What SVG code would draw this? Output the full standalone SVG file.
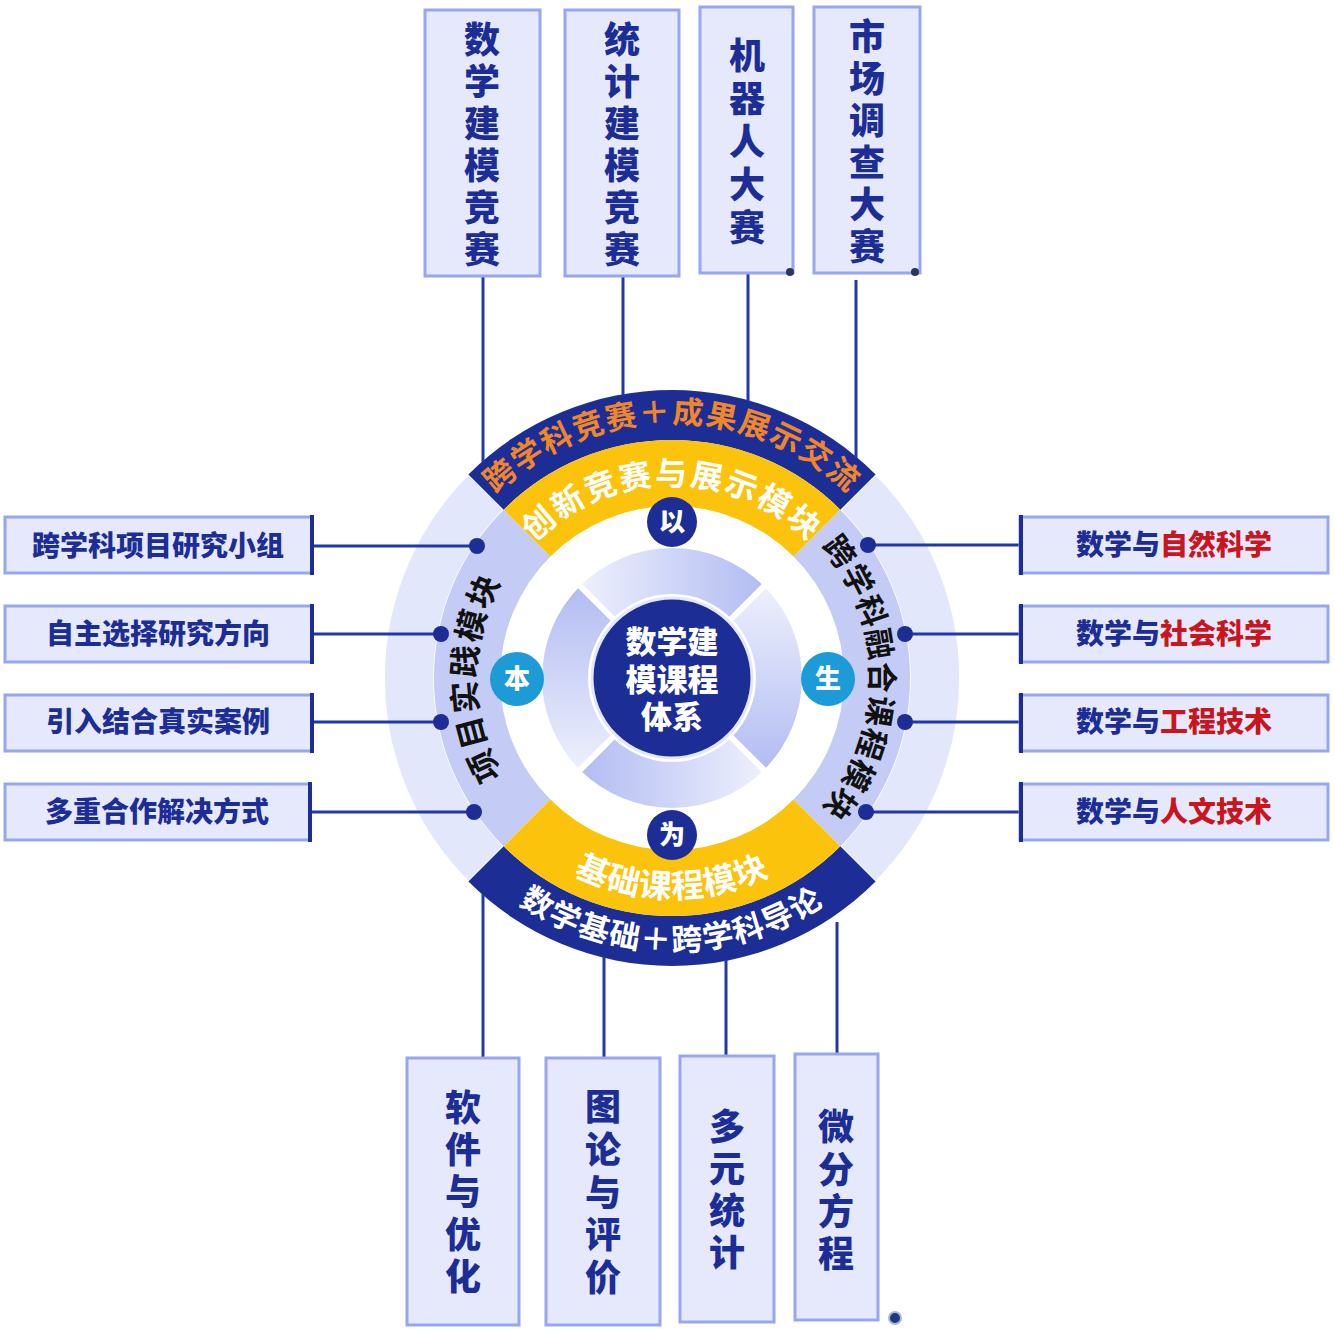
<svg xmlns="http://www.w3.org/2000/svg" width="1335" height="1329" viewBox="0 0 1335 1329">
<style>
.box{fill:#e6e9fc;stroke:#97a6ef;stroke-width:3}
.bar{stroke:#1c2e96;stroke-width:4}
.ln{stroke:#2238a8;stroke-width:3;fill:none}
.dot{fill:#1c2e96}
.t{font-family:"Noto Sans CJK SC","Noto Sans",sans-serif;font-weight:900}
.a{font-family:"Noto Sans CJK SC","Noto Sans",sans-serif;font-weight:700}
.vt{font-size:36px;fill:#1c2e96;text-anchor:middle}
.ht{font-size:28px;fill:#1c2e96;text-anchor:middle}
.red{fill:#c9151e}
</style>
<defs>
<linearGradient id="gT" x1="0" y1="0" x2="1" y2="0"><stop offset="0" stop-color="#eef0fd"/><stop offset="1" stop-color="#b2bcf2"/></linearGradient>
<linearGradient id="gR" x1="0" y1="0" x2="0" y2="1"><stop offset="0" stop-color="#eef0fd"/><stop offset="1" stop-color="#b2bcf2"/></linearGradient>
<linearGradient id="gB" x1="1" y1="0" x2="0" y2="0"><stop offset="0" stop-color="#eef0fd"/><stop offset="1" stop-color="#b2bcf2"/></linearGradient>
<linearGradient id="gL" x1="0" y1="1" x2="0" y2="0"><stop offset="0" stop-color="#eef0fd"/><stop offset="1" stop-color="#b2bcf2"/></linearGradient>
<path id="pTopO" d="M 451.2 550.5 A 255 255 0 0 1 892.8 550.5"/>
<path id="pTopI" d="M 504.9 581.5 A 193 193 0 0 1 839.1 581.5"/>
<path id="pBotI" d="M 481.5 788 A 220 220 0 0 0 862.5 788"/>
<path id="pBotO" d="M 435.6 814.5 A 273 273 0 0 0 908.4 814.5"/>
<path id="pLeft" d="M 502.3 776 A 196 196 0 0 1 502.3 580"/>
<path id="pRight" d="M 824.4 550.1 A 199 199 0 0 1 824.4 805.9"/>
</defs>
<rect width="1335" height="1329" fill="#ffffff"/>

<g id="wheel">
<path fill="#e3e7fc" stroke="#ffffff" stroke-width="1.5" d="M 468.4 881.6 A 288 288 0 0 1 468.4 474.4 L 503.7 509.7 A 238 238 0 0 0 503.7 846.3 Z"/>
<path fill="#e3e7fc" stroke="#ffffff" stroke-width="1.5" d="M 875.6 474.4 A 288 288 0 0 1 875.6 881.6 L 840.3 846.3 A 238 238 0 0 0 840.3 509.7 Z"/>
<path fill="#c4cbf5" d="M 503.7 846.3 A 238 238 0 0 1 503.7 509.7 L 550.4 556.4 A 172 172 0 0 0 550.4 799.6 Z"/>
<path fill="#c4cbf5" d="M 840.3 509.7 A 238 238 0 0 1 840.3 846.3 L 793.6 799.6 A 172 172 0 0 0 793.6 556.4 Z"/>
<path fill="#1c2e96" d="M 468.4 474.4 A 288 288 0 0 1 875.6 474.4 L 840.3 509.7 A 238 238 0 0 0 503.7 509.7 Z"/>
<path fill="#fbc30c" d="M 503.7 509.7 A 238 238 0 0 1 840.3 509.7 L 793.6 556.4 A 172 172 0 0 0 550.4 556.4 Z"/>
<path fill="#1c2e96" d="M 875.6 881.6 A 288 288 0 0 1 468.4 881.6 L 503.7 846.3 A 238 238 0 0 0 840.3 846.3 Z"/>
<path fill="#fbc30c" d="M 840.3 846.3 A 238 238 0 0 1 503.7 846.3 L 550.4 799.6 A 172 172 0 0 0 793.6 799.6 Z"/>
<text class="a" fill="#f0862a" font-size="31" letter-spacing="1.5"><textPath href="#pTopO" startOffset="50%" text-anchor="middle">跨学科竞赛＋成果展示交流</textPath></text>
<text class="a" fill="#ffffff" font-size="32" letter-spacing="2"><textPath href="#pTopI" startOffset="50%" text-anchor="middle">创新竞赛与展示模块</textPath></text>
<text class="a" fill="#ffffff" font-size="33" letter-spacing="1"><textPath href="#pBotI" startOffset="50%" text-anchor="middle">基础课程模块</textPath></text>
<text class="a" fill="#ffffff" font-size="31" letter-spacing="1.5"><textPath href="#pBotO" startOffset="50%" text-anchor="middle">数学基础＋跨学科导论</textPath></text>
<text class="a" fill="#111111" font-size="32" letter-spacing="2"><textPath href="#pLeft" startOffset="50%" text-anchor="middle">项目实践模块</textPath></text>
<text class="a" fill="#111111" font-size="31" letter-spacing="1"><textPath href="#pRight" startOffset="50%" text-anchor="middle">跨学科融合课程模块</textPath></text>
</g>

<g id="connectors">
<line class="ln" x1="483" y1="276" x2="483" y2="462"/>
<line class="ln" x1="623" y1="276" x2="623" y2="396"/>
<line class="ln" x1="748" y1="273" x2="748" y2="401"/>
<line class="ln" x1="856" y1="280" x2="856" y2="458"/>
<line class="ln" x1="483" y1="894" x2="483" y2="1058"/>
<line class="ln" x1="604" y1="957" x2="604" y2="1058"/>
<line class="ln" x1="726" y1="960" x2="726" y2="1056"/>
<line class="ln" x1="837" y1="922" x2="837" y2="1054"/>
<line class="ln" x1="312" y1="546" x2="477" y2="546"/>
<line class="ln" x1="312" y1="634" x2="441" y2="634"/>
<line class="ln" x1="312" y1="722" x2="441" y2="722"/>
<line class="ln" x1="310" y1="812" x2="474" y2="812"/>
<line class="ln" x1="868" y1="545" x2="1020" y2="545"/>
<line class="ln" x1="905" y1="634" x2="1020" y2="634"/>
<line class="ln" x1="905" y1="722" x2="1020" y2="722"/>
<line class="ln" x1="866" y1="812" x2="1020" y2="812"/>
<circle class="dot" cx="477" cy="546" r="8"/>
<circle class="dot" cx="441" cy="634" r="8"/>
<circle class="dot" cx="441" cy="722" r="8"/>
<circle class="dot" cx="474" cy="812" r="8"/>
<circle class="dot" cx="868" cy="545" r="8"/>
<circle class="dot" cx="905" cy="634" r="8"/>
<circle class="dot" cx="905" cy="722" r="8"/>
<circle class="dot" cx="866" cy="812" r="8"/>
</g>

<g id="inner-ring">
<path fill="url(#gT)" d="M 580.1 586.1 A 130 130 0 0 1 763.9 586.1 L 731.4 618.6 A 84 84 0 0 0 612.6 618.6 Z"/>
<path fill="url(#gR)" d="M 763.9 586.1 A 130 130 0 0 1 763.9 769.9 L 731.4 737.4 A 84 84 0 0 0 731.4 618.6 Z"/>
<path fill="url(#gB)" d="M 763.9 769.9 A 130 130 0 0 1 580.1 769.9 L 612.6 737.4 A 84 84 0 0 0 731.4 737.4 Z"/>
<path fill="url(#gL)" d="M 580.1 769.9 A 130 130 0 0 1 580.1 586.1 L 612.6 618.6 A 84 84 0 0 0 612.6 737.4 Z"/>
<line x1="575" y1="581" x2="615" y2="621" stroke="#ffffff" stroke-width="6"/>
<line x1="769" y1="581" x2="729" y2="621" stroke="#ffffff" stroke-width="6"/>
<line x1="769" y1="775" x2="729" y2="735" stroke="#ffffff" stroke-width="6"/>
<line x1="575" y1="775" x2="615" y2="735" stroke="#ffffff" stroke-width="6"/>
</g>

<g id="center">
<circle cx="672" cy="678" r="80" fill="#1c2e96" stroke="#e3e7fb" stroke-width="3"/>
<text class="t" font-size="31" fill="#ffffff" text-anchor="middle"><tspan x="672" y="653">数学建</tspan><tspan x="672" y="691">模课程</tspan><tspan x="672" y="728">体系</tspan></text>
</g>

<g id="badge-yi"><circle cx="672" cy="522" r="25" fill="#1c2e96"/><text class="t" x="672" y="531" font-size="26" fill="#fff" text-anchor="middle">以</text></g>
<g id="badge-wei"><circle cx="672" cy="835" r="25" fill="#1c2e96"/><text class="t" x="672" y="844" font-size="26" fill="#fff" text-anchor="middle">为</text></g>
<g id="badge-ben"><circle cx="517" cy="679" r="27" fill="#1d9bd7"/><text class="t" x="517" y="688" font-size="26" fill="#fff" text-anchor="middle">本</text></g>
<g id="badge-sheng"><circle cx="828" cy="679" r="27" fill="#1d9bd7"/><text class="t" x="828" y="688" font-size="26" fill="#fff" text-anchor="middle">生</text></g>

<g id="top-1"><rect class="box" x="425" y="10" width="115" height="266"/>
<text class="t vt"><tspan x="482" y="53">数</tspan><tspan x="482" y="95">学</tspan><tspan x="482" y="137">建</tspan><tspan x="482" y="179">模</tspan><tspan x="482" y="221">竞</tspan><tspan x="482" y="263">赛</tspan></text></g>
<g id="top-2"><rect class="box" x="565" y="10" width="114" height="266"/>
<text class="t vt"><tspan x="622" y="53">统</tspan><tspan x="622" y="95">计</tspan><tspan x="622" y="137">建</tspan><tspan x="622" y="179">模</tspan><tspan x="622" y="221">竞</tspan><tspan x="622" y="263">赛</tspan></text></g>
<g id="top-3"><rect class="box" x="700" y="7" width="93" height="266"/>
<text class="t vt"><tspan x="747" y="69">机</tspan><tspan x="747" y="112">器</tspan><tspan x="747" y="155">人</tspan><tspan x="747" y="198">大</tspan><tspan x="747" y="241">赛</tspan></text></g>
<g id="top-4"><rect class="box" x="814" y="7" width="106" height="266"/>
<text class="t vt"><tspan x="867" y="50">市</tspan><tspan x="867" y="92">场</tspan><tspan x="867" y="134">调</tspan><tspan x="867" y="176">查</tspan><tspan x="867" y="218">大</tspan><tspan x="867" y="260">赛</tspan></text></g>

<g id="bottom-1"><rect class="box" x="407" y="1058" width="112" height="267"/>
<text class="t vt"><tspan x="463" y="1121">软</tspan><tspan x="463" y="1163">件</tspan><tspan x="463" y="1205">与</tspan><tspan x="463" y="1248">优</tspan><tspan x="463" y="1290">化</tspan></text></g>
<g id="bottom-2"><rect class="box" x="546" y="1058" width="114" height="267"/>
<text class="t vt"><tspan x="603" y="1120">图</tspan><tspan x="603" y="1163">论</tspan><tspan x="603" y="1206">与</tspan><tspan x="603" y="1248">评</tspan><tspan x="603" y="1291">价</tspan></text></g>
<g id="bottom-3"><rect class="box" x="680" y="1056" width="94" height="266"/>
<text class="t vt"><tspan x="727" y="1140">多</tspan><tspan x="727" y="1182">元</tspan><tspan x="727" y="1224">统</tspan><tspan x="727" y="1266">计</tspan></text></g>
<g id="bottom-4"><rect class="box" x="795" y="1054" width="83" height="266"/>
<text class="t vt"><tspan x="836" y="1140">微</tspan><tspan x="836" y="1183">分</tspan><tspan x="836" y="1225">方</tspan><tspan x="836" y="1267">程</tspan></text></g>

<g id="left-1"><rect class="box" x="5" y="517" width="307" height="56"/><line class="bar" x1="312" y1="515" x2="312" y2="575"/><text class="t ht" x="158" y="556">跨学科项目研究小组</text></g>
<g id="left-2"><rect class="box" x="5" y="606" width="307" height="56"/><line class="bar" x1="312" y1="604" x2="312" y2="664"/><text class="t ht" x="158" y="644">自主选择研究方向</text></g>
<g id="left-3"><rect class="box" x="5" y="695" width="307" height="56"/><line class="bar" x1="312" y1="693" x2="312" y2="753"/><text class="t ht" x="158" y="732">引入结合真实案例</text></g>
<g id="left-4"><rect class="box" x="5" y="784" width="305" height="56"/><line class="bar" x1="310" y1="782" x2="310" y2="842"/><text class="t ht" x="157" y="822">多重合作解决方式</text></g>

<g id="right-1"><rect class="box" x="1020" y="517" width="308" height="56"/><line class="bar" x1="1021" y1="515" x2="1021" y2="575"/><text class="t ht" x="1174" y="555">数学与<tspan class="red">自然科学</tspan></text></g>
<g id="right-2"><rect class="box" x="1020" y="606" width="308" height="56"/><line class="bar" x1="1021" y1="604" x2="1021" y2="664"/><text class="t ht" x="1174" y="644">数学与<tspan class="red">社会科学</tspan></text></g>
<g id="right-3"><rect class="box" x="1020" y="695" width="308" height="56"/><line class="bar" x1="1021" y1="693" x2="1021" y2="753"/><text class="t ht" x="1174" y="732">数学与<tspan class="red">工程技术</tspan></text></g>
<g id="right-4"><rect class="box" x="1020" y="784" width="308" height="56"/><line class="bar" x1="1021" y1="782" x2="1021" y2="842"/><text class="t ht" x="1174" y="822">数学与<tspan class="red">人文技术</tspan></text></g>

<circle cx="790" cy="272" r="4" fill="#2a3560"/>
<circle cx="915" cy="272" r="4" fill="#2a3560"/>
<circle cx="895" cy="1318" r="6" fill="#1f3a7a" stroke="#a9b6e0" stroke-width="2"/>
</svg>
